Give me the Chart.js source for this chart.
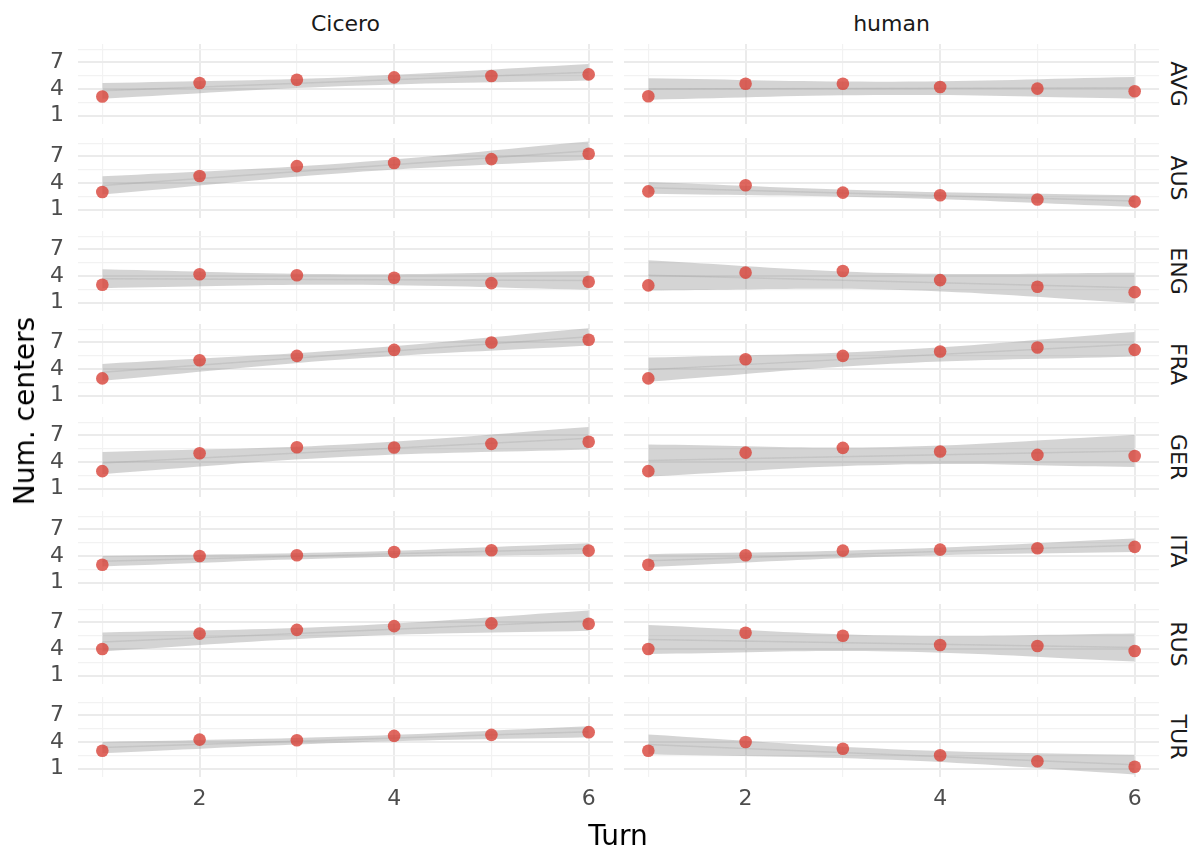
<!DOCTYPE html>
<html>
<head>
<meta charset="utf-8">
<script src="https://cdn.jsdelivr.net/npm/chart.js@4.4.1/dist/chart.umd.min.js"></script>
<style>
  body { margin: 0; background: #fff; width: 1198px; height: 852px; position: relative; overflow: hidden; font-family: "DejaVu Sans", sans-serif; }
  canvas { position: absolute; }
  .lbl { position: absolute; white-space: nowrap; transform: translate(-50%, -50%); line-height: 1; }
</style>
</head>
<body>
<script>
// facets
const groups = ["Cicero", "human"];
const powers = ["AVG", "AUS", "ENG", "FRA", "GER", "ITA", "RUS", "TUR"];
const turns = [1, 2, 3, 4, 5, 6];

// axis ticks (labelled) and grid positions
const xTicks = [2, 4, 6];
const yTicks = [1, 4, 7];
const yGrid = [1, 2.5, 4, 5.5, 7, 8.5];

// mean centers per turn, one row per power
const ciceroPoints = [
  [3.15, 4.67, 5.05, 5.31, 5.46, 5.65],
  [2.99, 4.79, 5.91, 6.25, 6.70, 7.30],
  [3.01, 4.19, 4.08, 3.81, 3.20, 3.35],
  [2.94, 4.99, 5.48, 6.16, 7.00, 7.30],
  [2.97, 4.99, 5.67, 5.63, 6.05, 6.28],
  [3.01, 4.00, 4.08, 4.46, 4.65, 4.61],
  [4.00, 5.74, 6.16, 6.58, 6.89, 6.85],
  [3.01, 4.27, 4.19, 4.69, 4.80, 5.11]
];
const humanPoints = [
  [3.18, 4.60, 4.60, 4.22, 4.04, 3.74],
  [3.06, 3.74, 2.91, 2.61, 2.13, 1.90],
  [2.94, 4.38, 4.57, 3.54, 2.78, 2.18],
  [2.94, 5.10, 5.48, 5.98, 6.43, 6.16],
  [2.97, 5.06, 5.60, 5.18, 4.80, 4.68],
  [3.01, 4.08, 4.61, 4.72, 4.87, 5.03],
  [4.00, 5.83, 5.49, 4.46, 4.34, 3.77],
  [3.01, 4.00, 3.24, 2.51, 1.82, 1.21]
];

// fitted line at turn 1 and turn 6
const fitTurns = [1, 6];
const ciceroFit = [[3.79, 5.89], [3.72, 7.65], [3.70, 3.50], [3.62, 7.63], [3.89, 6.68], [3.41, 4.82], [4.79, 7.19], [3.37, 5.16]];
const humanFit  = [[4.00, 4.13], [3.46, 1.96], [4.08, 2.67], [3.93, 6.80], [4.18, 5.23], [3.47, 5.22], [5.07, 4.17], [3.73, 1.44]];

// confidence band read at turns 1, 3.5, 6
const bandTurns = [1, 3.5, 6];
const ciceroLower = [[2.91, 4.34, 4.97], [2.69, 5.14, 6.62], [2.63, 3.00, 2.44], [2.67, 5.10, 6.66], [2.63, 4.58, 5.41], [2.82, 3.78, 4.19], [3.73, 5.39, 6.05], [2.74, 3.92, 4.53]];
const ciceroUpper = [[4.67, 5.34, 6.81], [4.75, 6.24, 8.68], [4.76, 4.20, 4.57], [4.57, 6.16, 8.60], [5.14, 5.98, 7.95], [4.00, 4.44, 5.44], [5.85, 6.59, 8.34], [4.00, 4.62, 5.79]];
const humanLower  = [[2.80, 3.32, 2.91], [2.80, 2.33, 1.30], [2.37, 2.45, 0.96], [2.56, 4.59, 5.41], [2.37, 3.70, 3.43], [2.75, 3.95, 4.46], [3.43, 3.72, 2.59], [2.63, 1.99, 0.34]];
const humanUpper  = [[5.20, 4.82, 5.35], [4.11, 3.09, 2.61], [5.79, 4.33, 4.38], [5.29, 6.13, 8.18], [5.98, 5.70, 7.04], [4.19, 4.75, 5.98], [6.71, 5.52, 5.76], [4.84, 3.19, 2.55]];

const pointsBy = [ciceroPoints, humanPoints];
const fitBy = [ciceroFit, humanFit];
const lowerBy = [ciceroLower, humanLower];
const upperBy = [ciceroUpper, humanUpper];

const FONT = "DejaVu Sans";
const PANEL_H = 80;
const AXIS_W = 78;
const panelLeft = [78, 624];
const panelW = 535;
const rowTop = k => Math.round(44.3 + 93.27 * k);

function xy(xs, ys) { return ys.map((v, i) => ({ x: xs[i], y: v })); }

function makePanel(g, k) {
  const isLeft = g === 0;
  const isBottom = k === powers.length - 1;
  const w = isLeft ? AXIS_W + panelW : panelW;
  const h = isBottom ? PANEL_H + 50 : PANEL_H;
  const cv = document.createElement("canvas");
  cv.width = w; cv.height = h;
  cv.style.width = w + "px"; cv.style.height = h + "px";
  cv.style.left = (isLeft ? panelLeft[0] - AXIS_W : panelLeft[1]) + "px";
  cv.style.top = rowTop(k) + "px";
  document.body.appendChild(cv);

  new Chart(cv, {
    type: "scatter",
    data: {
      datasets: [
        { type: "scatter", data: xy(turns, pointsBy[g][k]), pointRadius: 6.3, pointHoverRadius: 6.3,
          backgroundColor: "rgba(216,66,56,0.8)", borderWidth: 0, order: 0, clip: 8 },
        { type: "line", data: xy(fitTurns, fitBy[g][k]), borderColor: "rgba(140,140,140,0.22)",
          borderWidth: 1.5, pointRadius: 0, fill: false, order: 1 },
        { type: "line", data: xy(bandTurns, lowerBy[g][k]), borderWidth: 0, pointRadius: 0,
          tension: 0.4, fill: false, order: 2 },
        { type: "line", data: xy(bandTurns, upperBy[g][k]), borderWidth: 0, pointRadius: 0,
          tension: 0.4, fill: "-1", backgroundColor: "rgba(153,153,153,0.42)", order: 2 }
      ]
    },
    options: {
      responsive: false, animation: false, events: [],
      layout: { padding: 0, autoPadding: false },
      plugins: { legend: { display: false }, tooltip: { enabled: false } },
      scales: {
        x: {
          type: "linear", min: 0.75, max: 6.25,
          afterBuildTicks: s => { s.ticks = turns.map(v => ({ value: v })); },
          afterFit: s => { s.height = h - PANEL_H; s.paddingLeft = 0; s.paddingRight = 0; },
          border: { display: false },
          grid: {
            drawTicks: false, tickLength: 0,
            color: c => xTicks.includes(c.tick.value) ? "#ebebeb" : "#f2f2f2",
            lineWidth: c => xTicks.includes(c.tick.value) ? 2 : 1.2
          },
          ticks: {
            display: isBottom, autoSkip: false, maxRotation: 0, padding: 9, color: "#4d4d4d",
            font: { family: FONT, size: 22 },
            callback: v => xTicks.includes(v) ? String(v) : ""
          }
        },
        y: {
          type: "linear", min: 0.05, max: 9.08,
          afterBuildTicks: s => { s.ticks = yGrid.map(v => ({ value: v })); },
          afterFit: s => { s.width = isLeft ? AXIS_W : 0; s.paddingTop = 0; s.paddingBottom = 0; },
          border: { display: false },
          grid: {
            drawTicks: false, tickLength: 0,
            color: c => yTicks.includes(c.tick.value) ? "#ebebeb" : "#f2f2f2",
            lineWidth: c => yTicks.includes(c.tick.value) ? 2 : 1.2
          },
          ticks: {
            display: isLeft, autoSkip: false, padding: 14, color: "#4d4d4d",
            font: { family: FONT, size: 22 },
            callback: v => yTicks.includes(v) ? String(v) : ""
          }
        }
      }
    }
  });
}

function label(text, x, y, size, color, rot) {
  const d = document.createElement("div");
  d.className = "lbl";
  d.textContent = text;
  d.style.left = x + "px";
  d.style.top = y + "px";
  d.style.fontSize = size + "px";
  d.style.color = color;
  if (rot) d.style.transform = "translate(-50%, -50%) rotate(" + rot + "deg)";
  document.body.appendChild(d);
}

groups.forEach((name, g) => {
  powers.forEach((p, k) => makePanel(g, k));
  label(name, panelLeft[g] + panelW / 2, 24, 22, "#1a1a1a");
});
powers.forEach((p, k) => label(p, 1178, rowTop(k) + PANEL_H / 2, 22, "#1a1a1a", 90));
label("Num. centers", 25, 411, 28, "#000", -90);
label("Turn", 618, 836, 28, "#000");
</script>
</body>
</html>
